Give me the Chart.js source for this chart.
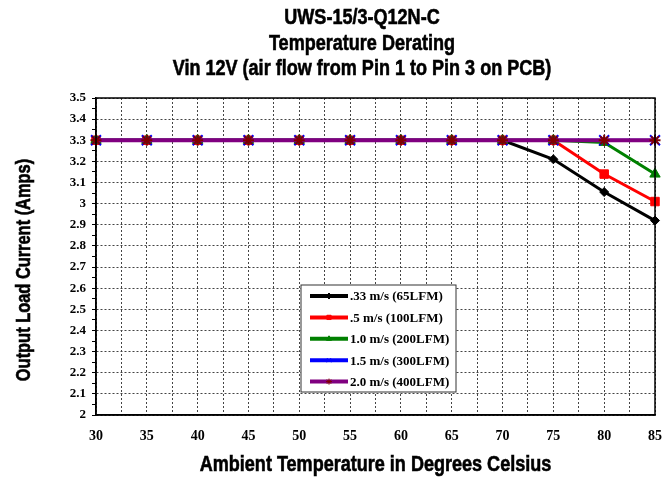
<!DOCTYPE html>
<html>
<head>
<meta charset="utf-8">
<script src="https://cdn.jsdelivr.net/npm/chart.js@4/dist/chart.umd.min.js"></script>
<style>
  html, body { margin: 0; padding: 0; background: #fff; }
  #wrap { width: 672px; height: 479px; }
</style>
</head>
<body>
<div id="wrap"><canvas id="chart_canvas" width="672" height="479"></canvas></div>
<script>
// temperatures (deg C) and output current (A) for each air flow
const temps = [30, 35, 40, 45, 50, 55, 60, 65, 70, 75, 80, 85];
const seriesLabels = ['.33 m/s (65LFM)', '.5 m/s (100LFM)', '1.0 m/s (200LFM)', '1.5 m/s (300LFM)', '2.0 m/s (400LFM)'];
const amps033 = [3.3, 3.3, 3.3, 3.3, 3.3, 3.3, 3.3, 3.3, 3.3, 3.21, 3.055, 2.92];
const amps05  = [3.3, 3.3, 3.3, 3.3, 3.3, 3.3, 3.3, 3.3, 3.3, 3.3, 3.14, 3.01];
const amps10  = [3.3, 3.3, 3.3, 3.3, 3.3, 3.3, 3.3, 3.3, 3.3, 3.3, 3.29, 3.14];
const amps15  = [3.3, 3.3, 3.3, 3.3, 3.3, 3.3, 3.3, 3.3, 3.3, 3.3, 3.3, 3.3];
const amps20  = [3.3, 3.3, 3.3, 3.3, 3.3, 3.3, 3.3, 3.3, 3.3, 3.3, 3.3, 3.3];
const titleLines = ['UWS-15/3-Q12N-C', 'Temperature Derating', 'Vin 12V (air flow from Pin 1 to Pin 3 on PCB)'];
const xTitle = 'Ambient Temperature in Degrees Celsius';
const yTitle = 'Output Load Current (Amps)';

const sans = '"Liberation Sans", Arial, sans-serif';
const serif = '"Liberation Serif", "Times New Roman", serif';

function pts(arr) {
  return arr.map((v, i) => ({ x: temps[i], y: v }));
}

function isMajor(v) {
  return Math.abs(v * 10 - Math.round(v * 10)) < 1e-6;
}

const series = [
  { data: amps033, color: '#000000', pointColor: '#000000', style: 'rectRot', radius: 4.5, width: 3 },
  { data: amps05, color: '#ff0000', pointColor: '#ff0000', style: 'rect', radius: 6, width: 3 },
  { data: amps10, color: '#008000', pointColor: '#008000', style: 'triangle', radius: 6, width: 3 },
  { data: amps15, color: '#0000ff', pointColor: '#0000ff', style: 'crossRot', radius: 7, width: 3 },
  { data: amps20, color: '#800080', pointColor: '#800000', style: 'star', radius: 5.5, width: 4 }
];

const datasets = series.map((s, i) => ({
  label: seriesLabels[i],
  data: pts(s.data),
  borderColor: s.color,
  backgroundColor: s.pointColor,
  borderWidth: s.width,
  pointStyle: s.style,
  pointRadius: s.radius,
  pointBorderColor: s.pointColor,
  pointBackgroundColor: s.pointColor,
  pointBorderWidth: (s.style === 'crossRot' || s.style === 'star') ? 2 : 1,
  tension: 0,
  clip: false,
  order: series.length - i
}));

// narrow bold text, like Arial Narrow
function narrowText(ctx, text, x, y, size, rot) {
  ctx.save();
  ctx.translate(x, y);
  if (rot) ctx.rotate(rot);
  ctx.scale(0.82, 1);
  ctx.font = 'bold ' + size + 'px ' + sans;
  ctx.textAlign = 'center';
  ctx.textBaseline = 'middle';
  ctx.fillStyle = '#000';
  ctx.strokeStyle = '#000';
  ctx.lineWidth = 0.6;
  ctx.fillText(text, 0, 0);
  ctx.strokeText(text, 0, 0);
  ctx.restore();
}

// titles, plot frame and the boxed legend inside the plot
const decor = {
  id: 'decor',
  afterDraw(chart) {
    const ctx = chart.ctx;
    const a = chart.chartArea;
    ctx.save();
    [18, 44, 69].forEach((y, i) => narrowText(ctx, titleLines[i], 362, y, 22));
    narrowText(ctx, xTitle, (a.left + a.right) / 2, 465, 22);
    narrowText(ctx, yTitle, 24, 270, 20, -Math.PI / 2);

    ctx.strokeStyle = '#000';
    ctx.lineWidth = 1.5;
    ctx.strokeRect(a.left, a.top, a.right - a.left, a.bottom - a.top);

    // legend
    const lx = a.left + 205, ly = a.top + 187, lw = 155, lh = 107;
    ctx.fillStyle = '#fff';
    ctx.fillRect(lx, ly, lw, lh);
    ctx.lineWidth = 1;
    ctx.strokeStyle = '#333';
    ctx.strokeRect(lx, ly, lw, lh);
    ctx.font = 'bold 13px ' + serif;
    ctx.textAlign = 'left';
    ctx.textBaseline = 'middle';
    chart.data.datasets.forEach((ds, i) => {
      const y = ly + 11 + i * 21.4;
      ctx.strokeStyle = ds.borderColor;
      ctx.lineWidth = 4;
      ctx.beginPath();
      ctx.moveTo(lx + 9, y);
      ctx.lineTo(lx + 47, y);
      ctx.stroke();
      ctx.fillStyle = ds.pointBackgroundColor;
      ctx.strokeStyle = ds.pointBorderColor;
      ctx.lineWidth = 1;
      Chart.helpers.drawPoint(ctx, { pointStyle: ds.pointStyle, radius: 3, rotation: 0, borderWidth: 1 }, lx + 28, y);
      ctx.fillStyle = '#000';
      ctx.fillText(ds.label, lx + 49, y + 1);
    });
    ctx.restore();
  }
};

const ctx = document.getElementById('chart_canvas');
new Chart(ctx, { // eslint-disable-line no-undef
  type: 'line',
  data: { datasets: datasets },
  options: {
    responsive: false,
    animation: false,
    layout: { padding: { left: 0, right: 17, top: 98, bottom: 0 } },
    plugins: { legend: { display: false }, tooltip: { enabled: false } },
    scales: {
      x: {
        type: 'linear',
        min: 30,
        max: 85,
        afterFit: (scale) => { scale.height = 64; },
        ticks: {
          stepSize: 2.5,
          autoSkip: false,
          maxRotation: 0,
          padding: 5,
          color: '#000',
          font: { family: serif, weight: 'bold', size: 14 },
          callback: (v) => (v % 5 === 0 ? String(v) : '')
        },
        grid: { color: '#444', lineWidth: 1, tickLength: 8, tickColor: 'rgba(0,0,0,0)' },
        border: { display: true, color: '#000', width: 1.5, dash: [2, 2] }
      },
      y: {
        min: 2,
        max: 3.5,
        afterFit: (scale) => { scale.width = 96; },
        ticks: {
          stepSize: 0.05,
          autoSkip: false,
          padding: 6,
          color: '#000',
          font: { family: serif, weight: 'bold', size: 13 },
          callback: (v) => (isMajor(v) ? String(Number(v.toFixed(1))) : '')
        },
        grid: {
          color: (c) => (c.tick && isMajor(c.tick.value) ? '#444' : 'rgba(0,0,0,0)'),
          tickColor: '#000',
          tickLength: 4,
          lineWidth: 1
        },
        border: { display: true, color: '#000', width: 1.5, dash: [2, 2] }
      }
    }
  },
  plugins: [decor]
});
</script>
</body>
</html>
